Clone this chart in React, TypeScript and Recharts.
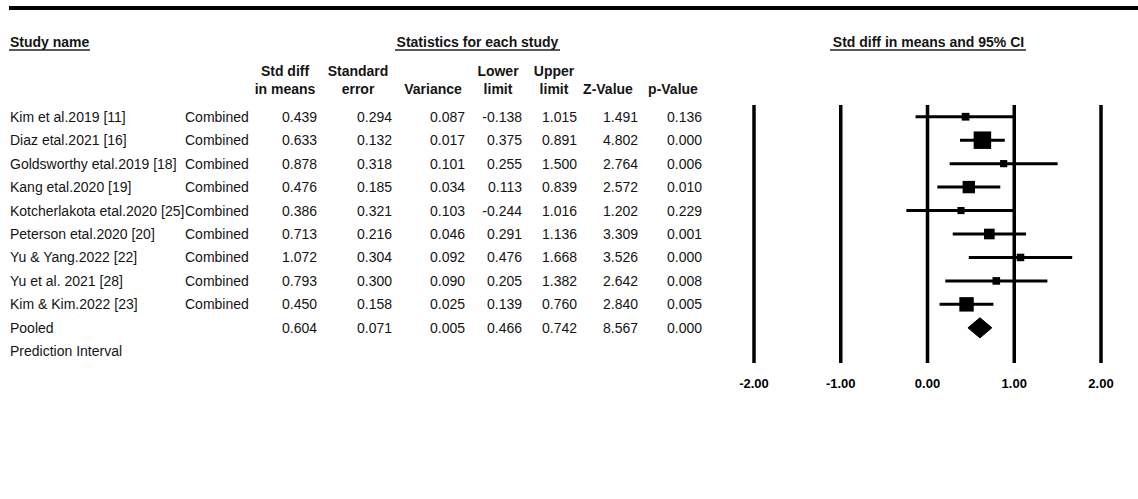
import React from 'react';
import { ComposedChart, Scatter, XAxis, YAxis, ReferenceLine } from 'recharts';

const studyNames = [
  'Kim et al.2019 [11]',
  'Diaz etal.2021 [16]',
  'Goldsworthy etal.2019 [18]',
  'Kang etal.2020 [19]',
  'Kotcherlakota etal.2020 [25]',
  'Peterson etal.2020 [20]',
  'Yu & Yang.2022 [22]',
  'Yu et al. 2021 [28]',
  'Kim & Kim.2022 [23]',
];
const subgroupLabel = 'Combined';
const stdDiff = [0.439, 0.633, 0.878, 0.476, 0.386, 0.713, 1.072, 0.793, 0.45];
const stdErr = [0.294, 0.132, 0.318, 0.185, 0.321, 0.216, 0.304, 0.3, 0.158];
const variance = [0.087, 0.017, 0.101, 0.034, 0.103, 0.046, 0.092, 0.09, 0.025];
const lowerLimit = [-0.138, 0.375, 0.255, 0.113, -0.244, 0.291, 0.476, 0.205, 0.139];
const upperLimit = [1.015, 0.891, 1.5, 0.839, 1.016, 1.136, 1.668, 1.382, 0.76];
const zValue = [1.491, 4.802, 2.764, 2.572, 1.202, 3.309, 3.526, 2.642, 2.84];
const pValue = [0.136, 0.0, 0.006, 0.01, 0.229, 0.001, 0.0, 0.008, 0.005];

const pooledLabel = 'Pooled';
const pooledStdDiff = 0.604;
const pooledStdErr = 0.071;
const pooledVariance = 0.005;
const pooledLower = 0.466;
const pooledUpper = 0.742;
const pooledZ = 8.567;
const pooledP = 0.0;
const predictionLabel = 'Prediction Interval';

const xTicks = [-2, -1, 0, 1, 2];

const columnHeaders = [
  { l1: 'Std diff', l2: 'in means' },
  { l1: 'Standard', l2: 'error' },
  { l1: '', l2: 'Variance' },
  { l1: 'Lower', l2: 'limit' },
  { l1: 'Upper', l2: 'limit' },
  { l1: '', l2: 'Z-Value' },
  { l1: '', l2: 'p-Value' },
];

// layout constants
const W = 1138;
const H = 499;
const FONT = "'Liberation Sans', Arial, Helvetica, sans-serif";
const TEXT = '#141414';
const numRight = [317, 392, 465, 522, 577, 638, 702];
const headerCenter = [285, 358, 433, 498, 554, 608, 673];
const NUM_STUDIES = studyNames.length;
const POOLED_ROW = NUM_STUDIES;
const PRED_ROW = NUM_STUDIES + 1;
const rowTicks = Array.from({ length: NUM_STUDIES + 2 }, (_, i) => i);
const DIAMOND_HALF = 0.43;

const studyData = studyNames.map((n, i) => ({
  x: stdDiff[i],
  y: i,
  lo: lowerLimit[i],
  hi: upperLimit[i],
  v: variance[i],
}));

const diamondData = [
  { x: pooledLower, y: POOLED_ROW },
  { x: pooledStdDiff, y: POOLED_ROW - DIAMOND_HALF },
  { x: pooledUpper, y: POOLED_ROW },
  { x: pooledStdDiff, y: POOLED_ROW + DIAMOND_HALF },
  { x: pooledLower, y: POOLED_ROW },
];

const fmt = (v: number) => v.toFixed(3);

function RowTick(props: any) {
  const { y, payload } = props;
  const i = payload.value;
  let name = '';
  let group = '';
  let vals: number[] = [];
  if (i < NUM_STUDIES) {
    name = studyNames[i];
    group = subgroupLabel;
    vals = [stdDiff[i], stdErr[i], variance[i], lowerLimit[i], upperLimit[i], zValue[i], pValue[i]];
  } else if (i === POOLED_ROW) {
    name = pooledLabel;
    vals = [pooledStdDiff, pooledStdErr, pooledVariance, pooledLower, pooledUpper, pooledZ, pooledP];
  } else if (i === PRED_ROW) {
    name = predictionLabel;
  }
  const common = { fontFamily: FONT, fontSize: 14, fill: TEXT, dy: '0.36em' } as any;
  return (
    <g>
      <text x={10} y={y} {...common}>{name}</text>
      {group && <text x={185} y={y} {...common}>{group}</text>}
      {vals.map((v, k) => (
        <text key={k} x={numRight[k]} y={y} textAnchor="end" {...common}>{fmt(v)}</text>
      ))}
    </g>
  );
}

function BoxShape(props: any) {
  const { cx, cy, payload } = props;
  if (cx == null || cy == null || !payload) return <g />;
  const s = 17.5 * Math.sqrt(variance[1] / payload.v);
  return <rect x={cx - s / 2} y={cy - s / 2} width={s} height={s} fill="#000" />;
}

function XTick(props: any) {
  const { x, y, payload } = props;
  return (
    <text
      x={x}
      y={y}
      dy="0.71em"
      textAnchor="middle"
      fontFamily={FONT}
      fontSize={13}
      fontWeight={700}
      fill="#000"
    >
      {Number(payload.value).toFixed(2)}
    </text>
  );
}

function Header() {
  const bold = { fontFamily: FONT, fontSize: 14, fontWeight: 700, fill: TEXT } as any;
  return (
    <svg width={W} height={H} style={{ position: 'absolute', left: 0, top: 0, pointerEvents: 'none' }}>
      <rect x={9} y={6} width={W - 9} height={4} fill="#000" />
      <text x={10} y={46.5} {...bold}>Study name</text>
      <line x1={9} x2={90} y1={50} y2={50} stroke="#222" strokeWidth={1.4} />
      <text x={477.5} y={46.5} textAnchor="middle" {...bold}>Statistics for each study</text>
      <line x1={395} x2={560} y1={50} y2={50} stroke="#222" strokeWidth={1.4} />
      <text x={928.5} y={46.5} textAnchor="middle" {...bold}>Std diff in means and 95% CI</text>
      <line x1={830} x2={1026} y1={50} y2={50} stroke="#222" strokeWidth={1.4} />
      {columnHeaders.map((h, k) => (
        <g key={k}>
          {h.l1 && <text x={headerCenter[k]} y={76} textAnchor="middle" {...bold}>{h.l1}</text>}
          <text x={headerCenter[k]} y={93.5} textAnchor="middle" {...bold}>{h.l2}</text>
        </g>
      ))}
    </svg>
  );
}

export default function App() {
  return (
    <div style={{ position: 'absolute', left: 0, top: 0, width: W, height: H, background: '#fff' }}>
      <ComposedChart
        width={W}
        height={H}
        margin={{ top: 105, right: 37, bottom: 106, left: 0 }}
      >
        <XAxis
          type="number"
          dataKey="x"
          domain={[-2, 2]}
          ticks={xTicks}
          interval={0}
          allowDataOverflow
          axisLine={false}
          tickLine={false}
          tickSize={6}
          tickMargin={10}
          height={30}
          tick={(p: any) => <XTick {...p} />}
        />
        <YAxis
          type="number"
          dataKey="y"
          domain={[-0.5, PRED_ROW + 0.5]}
          reversed
          allowDataOverflow
          ticks={rowTicks}
          interval={0}
          width={754}
          axisLine={false}
          tickLine={false}
          tick={(p: any) => <RowTick {...p} />}
        />
        {xTicks.map((t) => (
          <ReferenceLine key={'v' + t} x={t} stroke="#000" strokeWidth={3.5} />
        ))}
        {studyData.map((d, i) => (
          <ReferenceLine
            key={'ci' + i}
            segment={[{ x: d.lo, y: d.y }, { x: d.hi, y: d.y }]}
            stroke="#000"
            strokeWidth={3}
          />
        ))}
        <Scatter data={studyData} shape={(p: any) => <BoxShape {...p} />} isAnimationActive={false} />
        <Scatter
          data={diamondData}
          fill="#000"
          line={{ stroke: '#000', strokeWidth: 1, fill: '#000' }}
          shape={() => <g />}
          isAnimationActive={false}
        />
      </ComposedChart>
      <Header />
    </div>
  );
}
